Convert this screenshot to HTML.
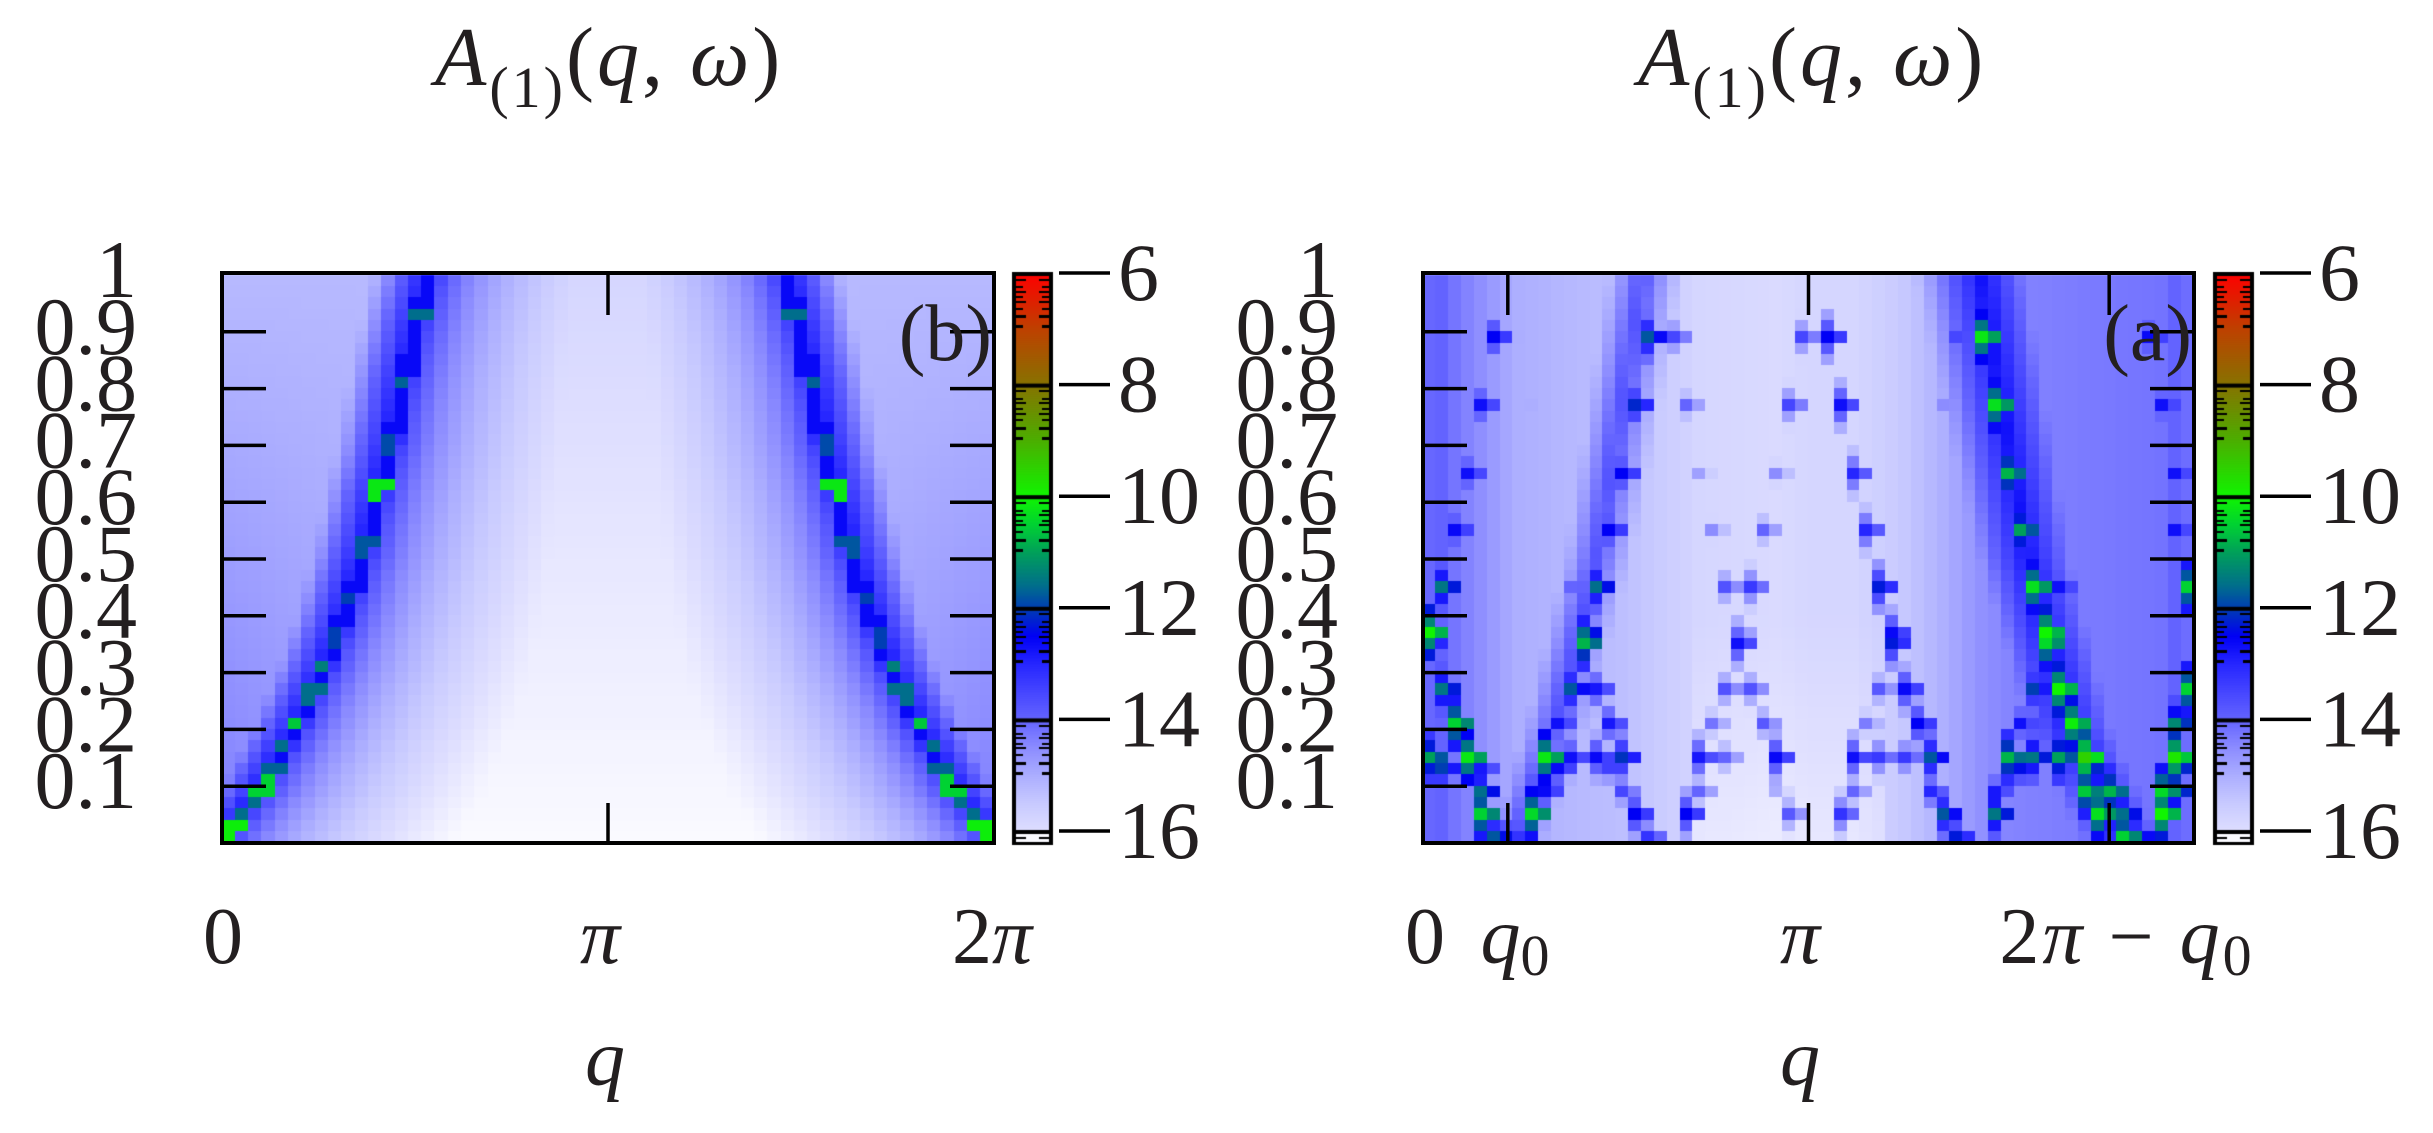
<!DOCTYPE html>
<html><head><meta charset="utf-8">
<style>
html,body{margin:0;padding:0;background:#fff;}
#wrap{position:relative;width:2433px;height:1133px;overflow:hidden;background:#fff;}
canvas{position:absolute;left:0;top:0;}
svg{position:absolute;left:0;top:0;}
text{font-family:"Liberation Serif","DejaVu Serif",serif;fill:#231f20;}
.it{font-style:italic;}
</style></head>
<body><div id="wrap">
<canvas id="c" width="2433" height="1133"></canvas>
<svg width="2433" height="1133" viewBox="0 0 2433 1133" xmlns="http://www.w3.org/2000/svg">
<g id="ov" stroke="#000" fill="none"></g>
<text x="435" y="85" font-size="84" letter-spacing="3"><tspan class="it">A</tspan><tspan font-size="58" dy="22">(1)</tspan><tspan dy="-22">(</tspan><tspan class="it">q</tspan><tspan>, </tspan><tspan class="it">ω</tspan><tspan>)</tspan></text>
<text x="1638" y="85" font-size="84" letter-spacing="3"><tspan class="it">A</tspan><tspan font-size="58" dy="22">(1)</tspan><tspan dy="-22">(</tspan><tspan class="it">q</tspan><tspan>, </tspan><tspan class="it">ω</tspan><tspan>)</tspan></text>
<text x="992" y="360" font-size="80" text-anchor="end">(b)</text>
<text x="2192" y="360" font-size="80" text-anchor="end">(a)</text>
<text x="223" y="963" font-size="80" text-anchor="middle">0</text>
<text x="600" y="963" font-size="80" text-anchor="middle" class="it">π</text>
<text x="992" y="963" font-size="80" text-anchor="middle">2<tspan class="it">π</tspan></text>
<text x="1425" y="963" font-size="80" text-anchor="middle">0</text>
<text x="1515" y="963" font-size="80" text-anchor="middle"><tspan class="it">q</tspan><tspan font-size="58" dy="12">0</tspan></text>
<text x="1800" y="963" font-size="80" text-anchor="middle" class="it">π</text>
<text x="2127" y="963" font-size="80" text-anchor="middle" letter-spacing="3">2<tspan class="it">π</tspan> − <tspan class="it">q</tspan><tspan font-size="58" dy="12">0</tspan></text>
<text x="605" y="1085" font-size="80" text-anchor="middle" class="it">q</text>
<text x="1800" y="1085" font-size="80" text-anchor="middle" class="it">q</text>
<g id="ylab" font-size="82" text-anchor="end"></g>
<g id="cblab" font-size="82"></g>
</svg>
</div>
<script>
(function(){
var cv=document.getElementById('c'),ctx=cv.getContext('2d');
var stops=[[-16.6,[250,250,255]],[-16,[222,222,255]],[-15.5,[200,202,255]],[-15,[172,174,255]],[-14.5,[140,140,255]],[-14,[100,100,255]],[-13.5,[70,70,255]],[-13,[38,38,255]],[-12.5,[0,0,245]],[-12.1,[0,50,190]],[-11.6,[0,110,140]],[-11,[0,160,90]],[-10.5,[0,210,50]],[-10,[16,245,0]],[-9,[75,175,0]],[-8,[135,115,0]],[-7,[190,65,0]],[-6,[255,0,0]]];
function col(v){
 if(v<=stops[0][0])return 'rgb('+stops[0][1]+')';
 for(var i=1;i<stops.length;i++){if(v<=stops[i][0]){var a=stops[i-1],b=stops[i],t=(v-a[0])/(b[0]-a[0]);
  return 'rgb('+[0,1,2].map(function(k){return Math.round(a[1][k]+(b[1][k]-a[1][k])*t)}).join(',')+')';}}
 return 'rgb(255,0,0)';}
function interp(pts,x){ if(x<=pts[0][0])return pts[0][1];
 for(var i=1;i<pts.length;i++){if(x<=pts[i][0]){var a=pts[i-1],b=pts[i];return a[1]+(b[1]-a[1])*(x-a[0])/(b[0]-a[0]);}}
 return pts[pts.length-1][1];}
var NR=50,FT=275,FB=843;
function draw(x0,x1,grid,NC){var cw=(x1-x0)/NC,ch=(FB-FT)/NR;
 for(var r=0;r<NR;r++)for(var c=0;c<NC;c++){ctx.fillStyle=col(grid[r][c]);
  ctx.fillRect(Math.floor(x0+c*cw),Math.floor(FT+r*ch),Math.ceil(cw)+1,Math.ceil(ch)+1);}}
var NB=58;
var bp=[[0,0],[0.09,0.05],[0.21,0.1],[0.31,0.135],[0.4,0.16],[0.52,0.187],[0.61,0.203],[0.7,0.22],[0.81,0.236],[0.927,0.256],[1.0,0.27]];
var spots=[[0.93,-11.6],[0.81,-11.7],[0.7,-11.9],[0.62,-10.2],[0.52,-11.8],[0.43,-12.0],[0.36,-12.0],[0.31,-11.4],[0.26,-11.6],[0.21,-10.6],[0.17,-11.6],[0.13,-11.7],[0.1,-10.5],[0.06,-11.6],[0.02,-10.1]];
var gb=[];
for(var r=0;r<NR;r++){gb.push([]);var w=1-(r+0.5)/NR,qb=interp(bp,w);
 var sp=null;spots.forEach(function(s){if(Math.abs(s[0]-w)<0.011)sp=s[1];});
 for(var c=0;c<NB;c++){var qf=(c+0.5)/NB,q=Math.min(qf,1-qf),d=(q-qb)*NB,v;
  if(Math.abs(d)<0.65){v=(sp!==null)?sp:-12.6;}
  else if(d<0){v=Math.max(-13.0+0.6*(d+0.65),-15.2+0.9*(1-w)*(1-q*3));}
  else{v=-13.1-0.85*Math.sqrt(d-0.65);v=Math.max(v,-16.6+0.8*w);}
  gb[r].push(v);}}
draw(222,994,gb,NB);
var NC=60;
var base=[[0,-14.0],[0.04,-14.2],[0.08,-14.6],[0.12,-15.0],[0.2,-15.2],[0.26,-15.3],[0.3,-15.5],[0.36,-15.8],[0.46,-15.9],[0.5,-15.8],[0.56,-15.8],[0.62,-15.5],[0.68,-15.0],[0.72,-14.6],[0.76,-14.4],[0.85,-14.3],[0.95,-14.2],[1,-14.1]];
var qR=[[0,0.91],[0.2,0.84],[0.5,0.785],[1,0.725]],qL=[[0,0.12],[0.2,0.17],[0.5,0.225],[1,0.285]];
var ga=[];
for(var r=0;r<NR;r++){ga.push([]);var w=1-(r+0.5)/NR;
 for(var c=0;c<NC;c++){var qf=(c+0.5)/NC,v=interp(base,qf);
  if(qf>0.35&&qf<0.6)v-=0.4*Math.max(0,(0.4-w)/0.4);
  var dR=Math.abs(qf-interp(qR,w))*NC,dL=Math.abs(qf-interp(qL,w))*NC;
  v=Math.max(v,-12.7-0.5*dR,-13.7-0.6*dL,-13.8-0.6*Math.abs(qf-0.03)*NC,-13.8-0.6*Math.abs(qf-0.97)*NC);
  ga[r].push(v);}}
var blocks=[[177,[[348,-12.5],[388,-15],[553,-11.8],[585,-13.5],[755,-13.5],[787,-12.5],[957,-13.5],[990,-10.2],[1195,-12.6]]],
[305,[[333,-12.7],[400,-15],[535,-12.2],[603,-14],[737,-13.5],[805,-12.7],[940,-14.5],[1007,-10.3],[1210,-12.7]]],
[425,[[315,-12.7],[415,-15.3],[518,-12.5],[620,-14.8],[720,-14.5],[822,-13],[920,-15.3],[1025,-10.8],[1228,-12.7]]],
[527,[[300,-12.6],[503,-12.5],[637,-14.5],[705,-14],[840,-13],[1040,-11],[1240,-12.7]]],
[627,[[283,-11.5],[450,-14],[485,-11.6],[655,-13.7],[688,-13.3],[855,-12.3],[890,-15.5],[1058,-10.3],[1090,-12.7],[1250,-10.5]]],
[697,[[272,-10],[470,-11.6],[672,-14],[872,-12.6],[1075,-10]]],
[727,[[272,-12.2],[470,-10.8],[672,-12.7],[872,-12.3],[1075,-10.4]]],
[787,[[283,-11.5],[450,-11.8],[485,-12.8],[655,-13.7],[688,-13.7],[855,-13.8],[890,-12.6],[1058,-12],[1092,-10.0],[1250,-10.5]]],
[847,[[300,-10.5],[435,-12.7],[502,-12.8],[637,-14.2],[705,-13.8],[838,-14.3],[905,-12.5],[1040,-12.7],[1108,-10.1],[1240,-11.3]]],
[907,[[273,-11],[315,-10.2],[418,-10.2],[450,-12.7],[485,-12.6],[518,-12.1],[620,-12.8],[655,-14],[720,-12.6],[822,-12.7],[855,-13.3],[888,-13.3],[922,-11.8],[1025,-10.8],[1058,-11.5],[1092,-11],[1125,-9.5],[1228,-9.8]]],
[937,[[290,-12.0],[335,-12.8],[435,-12.6],[500,-13.4],[1040,-12.4],[1110,-11.4],[1240,-11.4]]],
[967,[[335,-11.6],[400,-12.5],[420,-12.6],[520,-13.5],[620,-14],[720,-15],[820,-14],[920,-13],[1000,-12.8],[1125,-10.6],[1145,-10.8],[1210,-10.4],[1230,-11.4]]],
[1005,[[333,-10.5],[400,-10.4],[535,-12.5],[603,-12.5],[737,-13.8],[805,-13.2],[940,-11.8],[1007,-11.5],[1142,-10.3],[1160,-11.6],[1210,-10.0]]],
[1045,[[348,-11.8],[370,-12.4],[555,-13.2],[957,-12.3],[1160,-10.5],[1190,-11.8]]]];
blocks.forEach(function(b){var r=Math.floor((b[0]-76)/987*NR);
 b[1].forEach(function(p){var c=Math.floor((p[0]-263)/996*NC);if(c<0||c>=NC||r<0||r>=NR)return;
  var v=p[1];ga[r][c]=Math.max(ga[r][c],v);if(c+1<NC)ga[r][c+1]=Math.max(ga[r][c+1],v-0.8);
  [[-1,1.3],[1,1.3],[-2,2.3],[2,2.3]].forEach(function(o){var rr=r+o[0];if(rr>=0&&rr<NR)ga[rr][c]=Math.max(ga[rr][c],v-o[1]);});
 });});
draw(1423,2194,ga,NC);
function cbar(x0){var x1=x0+41,top=273,sp=111.6,bot=845;
 ctx.fillStyle='#000';ctx.fillRect(x0,top,41,bot-top);
 for(var y=top+3;y<bot-3;y++){var v=-6-(y-top)/sp*2;ctx.fillStyle=col(v<-16.05?-16.6:v);ctx.fillRect(x0+4,y,33,1);}
 ctx.fillStyle='#000';
 var f=[0.05,0.12,0.16,0.21,0.25,0.31,0.38,0.47];
 for(var k=0;k<6;k++){var y0=top+k*sp;ctx.fillRect(x0,y0-1,41,4);
  f.forEach(function(t,i){var yy=Math.round(y0+t*sp);if(yy>bot-3)return;var L=(i%2==0)?14:11;ctx.fillRect(x0,yy,L,i>5?3:2);ctx.fillRect(x1-L,yy,L,i>5?3:2);});}
}
cbar(1012);cbar(2213);
var ns='http://www.w3.org/2000/svg',ov=document.getElementById('ov');
function ln(x1,y1,x2,y2,w){var e=document.createElementNS(ns,'line');e.setAttribute('x1',x1);e.setAttribute('y1',y1);e.setAttribute('x2',x2);e.setAttribute('y2',y2);e.setAttribute('stroke-width',w||3.5);ov.appendChild(e);}
function rect(x,y,w,h){var e=document.createElementNS(ns,'rect');e.setAttribute('x',x);e.setAttribute('y',y);e.setAttribute('width',w);e.setAttribute('height',h);e.setAttribute('stroke-width',4);ov.appendChild(e);}
var yl=document.getElementById('ylab'),cl=document.getElementById('cblab');
function tx(par,x,y,s){var e=document.createElementNS(ns,'text');e.setAttribute('x',x);e.setAttribute('y',y);e.textContent=s;par.appendChild(e);return e;}
[[222,994,[0.5]],[1423,2194,[0.11,0.5,0.89]]].forEach(function(P){
 var x0=P[0],x1=P[1];rect(x0,FT-2,x1-x0,FB-FT+2);
 for(var i=1;i<=9;i++){var y=FT+(FB-FT)*(1-i/10);ln(x0,y,x0+44,y);ln(x1-44,y,x1,y);}
 P[2].forEach(function(t){var x=x0+(x1-x0)*t;ln(x,FT,x,FT+40);ln(x,FB-40,x,FB);});
 for(var i=1;i<=10;i++){var y=FT+(FB-FT)*(1-i/10);tx(yl,x0-85,y+22,i==10?'1':'0.'+i);}
});
[1012,2213].forEach(function(x0){for(var k=0;k<6;k++){var y=273+k*111.6;ln(x0+47,y,x0+98,y,3.5);
 tx(cl,x0+106,y+27,String(6+2*k));}});
})();
</script>
</body></html>
